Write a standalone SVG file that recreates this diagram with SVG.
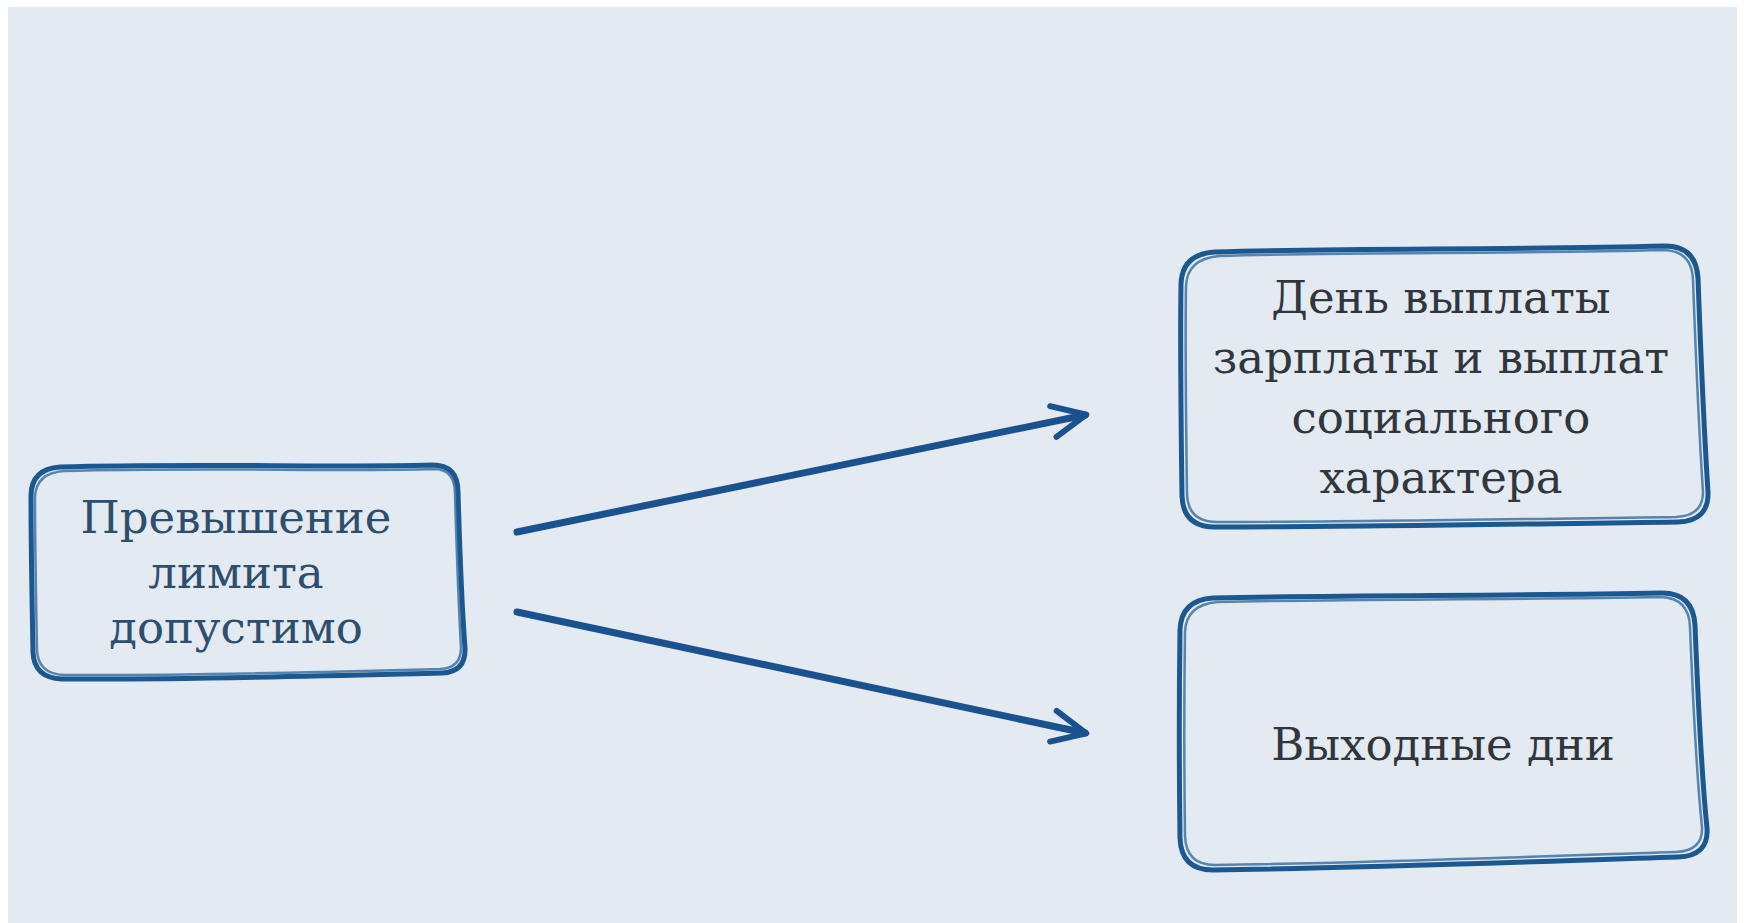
<svg xmlns="http://www.w3.org/2000/svg" width="1745" height="923" viewBox="0 0 1745 923">
<defs>
<style>
.bg{fill:#e3eaf2}
.box1{fill:none;stroke:#1c5890;stroke-width:5;stroke-linecap:round;stroke-linejoin:round}
.box2{fill:none;stroke:#2f6a9e;stroke-width:2.5;stroke-linecap:round;stroke-linejoin:round;opacity:0.8}
.t{font-family:"DejaVu Serif","Liberation Serif",serif;font-size:45px;text-anchor:middle}
.tl{fill:#2d4e6e}
.tr{fill:#31363c}
.conn{fill:none;stroke:#1a5290;stroke-width:7;stroke-linecap:round;stroke-linejoin:round}
</style>
<marker id="chev" viewBox="0 0 20 20" refX="16.5" refY="10" markerWidth="5.6" markerHeight="5.6" orient="auto" markerUnits="strokeWidth" style="overflow:visible">
<path d="M0,2 L17.2,10 L0,18" fill="none" stroke="#1a5290" stroke-width="3" stroke-linecap="round" stroke-linejoin="round"/>
</marker>
</defs>
<rect x="0" y="0" width="1745" height="923" fill="#ffffff"/>
<rect class="bg" x="8" y="7" width="1729" height="916"/>
<g id="node-limit">
<path class="box1" d="M60,467 C200,463 330,468 432,465 Q458,465 458,492 C460,560 462,610 465,648 Q466,672 442,673 C320,676 180,680 62,679 Q34,678 33,652 C32,600 31,540 31,496 Q31,469 60,467 Z"/>
<path class="box2" d="M64,471 C204,467 334,472 434,469 Q455,469 455,494 C457,562 459,612 461,648 Q461,668 440,669 C320,672 180,676 64,675 Q38,674 37,650 C36,600 35,540 35,497 Q36,473 64,471 Z"/>
<text class="t tl" x="236" y="533">Превышение</text>
<text class="t tl" x="236" y="588">лимита</text>
<text class="t tl" x="236" y="643">допустимо</text>
</g>
<g id="node-payday">
<path class="box1" d="M1215,252 C1350,248 1500,250 1665,246 Q1696,246 1698,278 C1701,360 1704,430 1708,492 Q1709,521 1678,522 C1520,524 1360,527 1215,527 Q1183,527 1182,496 C1181,420 1180,350 1181,284 Q1182,254 1215,252 Z"/>
<path class="box2" d="M1219,256 C1354,252 1504,254 1664,250 Q1692,251 1693,280 C1696,362 1699,432 1703,492 Q1703,516 1676,517 C1520,519 1360,522 1217,522 Q1188,522 1187,494 C1186,420 1185,350 1186,286 Q1187,259 1219,256 Z"/>
<text class="t tr" x="1441" y="313">День выплаты</text>
<text class="t tr" x="1441" y="373">зарплаты и выплат</text>
<text class="t tr" x="1441" y="433">социального</text>
<text class="t tr" x="1441" y="493">характера</text>
</g>
<g id="node-weekend">
<path class="box1" d="M1213,598 C1350,595 1500,596 1662,593 Q1693,593 1695,625 C1698,700 1702,780 1707,828 Q1709,856 1678,857 C1520,862 1360,868 1213,870 Q1181,870 1180,838 C1179,760 1179,700 1180,630 Q1181,600 1213,598 Z"/>
<path class="box2" d="M1217,602 C1354,599 1504,600 1661,597 Q1689,598 1690,627 C1693,702 1697,780 1702,827 Q1703,851 1676,852 C1520,857 1360,863 1215,865 Q1186,865 1185,836 C1184,760 1184,700 1185,632 Q1186,605 1217,602 Z"/>
<text class="t tr" x="1443" y="760">Выходные дни</text>
</g>
<g id="connectors">
<path class="conn" d="M517,532 L1085,415" marker-end="url(#chev)"/>
<path class="conn" d="M517,612 L1085,733" marker-end="url(#chev)"/>
</g>
</svg>
